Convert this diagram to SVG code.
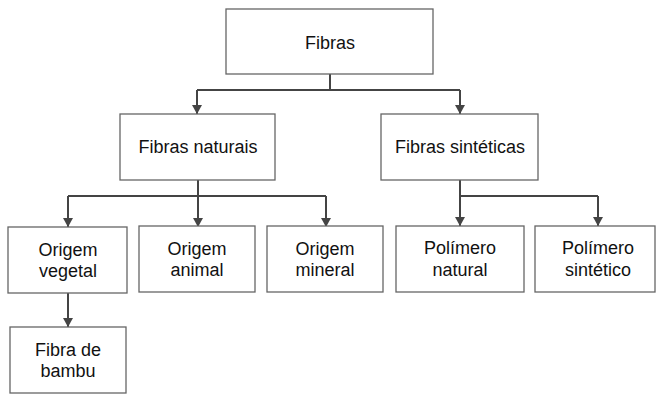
<svg xmlns="http://www.w3.org/2000/svg" width="656" height="396" viewBox="0 0 656 396">
<defs>
<marker id="arr" markerWidth="9" markerHeight="10" refX="9" refY="5" orient="auto" markerUnits="userSpaceOnUse">
<path d="M0,0 L9,5 L0,10 Z" fill="#444"/>
</marker>
<style>
.box{fill:#fff;stroke:#666;stroke-width:1.3}
.t{font-family:"Liberation Sans",Arial,sans-serif;font-size:18px;fill:#111;text-anchor:middle}
.c{fill:none;stroke:#444;stroke-width:2}
</style>
</defs>
<rect width="656" height="396" fill="#fff"/>
<g id="connectors">
<path class="c" d="M330,74 V90 M197,90 H460"/>
<path class="c" d="M197,90 V114" marker-end="url(#arr)"/>
<path class="c" d="M460,90 V114" marker-end="url(#arr)"/>
<path class="c" d="M198,180 V196 M68,196 H326"/>
<path class="c" d="M68,196 V227" marker-end="url(#arr)"/>
<path class="c" d="M198,196 V227" marker-end="url(#arr)"/>
<path class="c" d="M326,196 V227" marker-end="url(#arr)"/>
<path class="c" d="M460,180 V196 H598"/>
<path class="c" d="M460,196 V226" marker-end="url(#arr)"/>
<path class="c" d="M598,196 V226" marker-end="url(#arr)"/>
<path class="c" d="M68,293 V327" marker-end="url(#arr)"/>
</g>
<g id="fibras"><rect class="box" x="226" y="9" width="207" height="65"/><text class="t" x="330" y="48.5">Fibras</text></g>
<g id="naturais"><rect class="box" x="120" y="114" width="155" height="66"/><text class="t" x="198" y="153">Fibras naturais</text></g>
<g id="sinteticas"><rect class="box" x="381" y="114" width="157" height="66"/><text class="t" x="460" y="153">Fibras sintéticas</text></g>
<g id="vegetal"><rect class="box" x="8" y="227" width="119" height="66"/><text class="t" x="68" y="255.5">Origem</text><text class="t" x="68" y="277">vegetal</text></g>
<g id="animal"><rect class="box" x="139" y="226" width="116" height="66"/><text class="t" x="197" y="254.5">Origem</text><text class="t" x="197" y="276">animal</text></g>
<g id="mineral"><rect class="box" x="267" y="226" width="116" height="66"/><text class="t" x="325" y="254.5">Origem</text><text class="t" x="325" y="276">mineral</text></g>
<g id="polnatural"><rect class="box" x="396" y="226" width="128" height="66"/><text class="t" x="460" y="254">Polímero</text><text class="t" x="460" y="276">natural</text></g>
<g id="polsintetico"><rect class="box" x="535" y="226" width="120" height="66"/><text class="t" x="598" y="254">Polímero</text><text class="t" x="598" y="276">sintético</text></g>
<g id="bambu"><rect class="box" x="10" y="327" width="116" height="66"/><text class="t" x="68" y="355.5">Fibra de</text><text class="t" x="68" y="377">bambu</text></g>
</svg>
